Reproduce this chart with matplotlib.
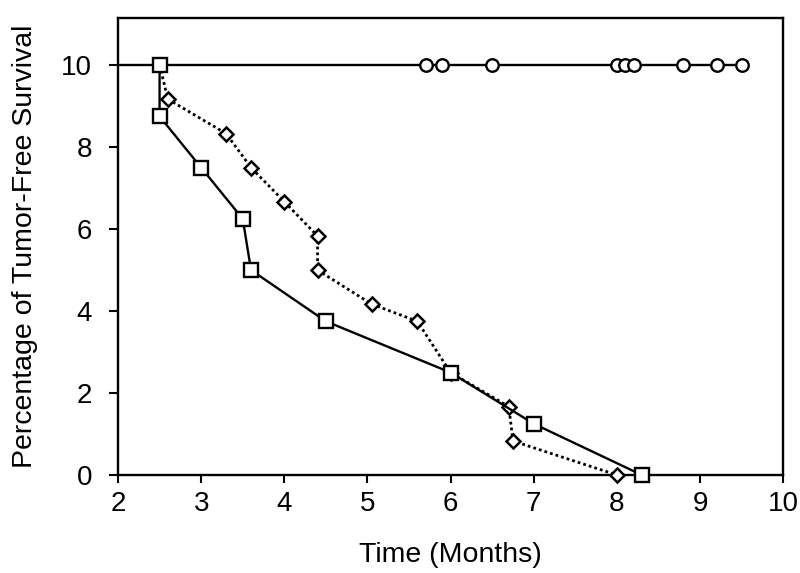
import matplotlib
matplotlib.use("Agg")
import matplotlib.pyplot as plt

plt.rcParams['font.family'] = ['Liberation Sans', 'DejaVu Sans']

# Control group (circles): tumor-free throughout
circle_x = [5.7, 5.9, 6.5, 8.0, 8.1, 8.2, 8.8, 9.2, 9.5]
circle_y = [10, 10, 10, 10, 10, 10, 10, 10, 10]
circle_line_x = [2.0, 9.5]
circle_line_y = [10, 10]

# Squares (solid line)
square_x = [2.5, 2.5, 3.0, 3.5, 3.6, 4.5, 6.0, 7.0, 8.3]
square_y = [10, 8.75, 7.5, 6.25, 5.0, 3.75, 2.5, 1.25, 0]

# Diamonds (dotted line), starting from the shared point at (2.5, 10)
diamond_x = [2.5, 2.6, 3.3, 3.6, 4.0, 4.4, 4.4, 5.05, 5.6, 6.0, 6.7, 6.75, 8.0]
diamond_y = [10, 9.17, 8.33, 7.5, 6.67, 5.83, 5.0, 4.17, 3.75, 2.5, 1.67, 0.83, 0]

x_ticks = [2, 3, 4, 5, 6, 7, 8, 9, 10]
y_ticks = [0, 2, 4, 6, 8, 10]

fig = plt.figure(figsize=(8.0, 5.73), dpi=100)
ax = fig.add_axes([0.1475, 0.171, 0.979 - 0.1475, 0.9686 - 0.171])

ax.plot(circle_line_x, circle_line_y, color='black', lw=1.7, zorder=2)
ax.plot(circle_x, circle_y, linestyle='none', marker='o', ms=9,
        mfc='white', mec='black', mew=1.7, zorder=4, clip_on=False)

ax.plot(diamond_x, diamond_y, color='black', lw=2.0, linestyle=(0, (1, 1.1)),
        marker='D', ms=7, mfc='white', mec='black', mew=1.8,
        markevery=list(range(1, len(diamond_x))), zorder=3, clip_on=False)

ax.plot(square_x, square_y, color='black', lw=1.7, marker='s', ms=10,
        mfc='white', mec='black', mew=1.7, zorder=5, clip_on=False)

ax.set_xlim(2, 10)
ax.set_ylim(0, 11.15)
ax.set_xticks(x_ticks)
ax.set_yticks(y_ticks)
ax.tick_params(axis='both', direction='out', width=1.5, labelsize=20)
ax.tick_params(axis='y', length=6.5, pad=12)
ax.tick_params(axis='x', length=5.5, pad=6)
for s in ax.spines.values():
    s.set_linewidth(1.7)

ax.set_xlabel('Time (Months)', fontsize=20.5, labelpad=18)
ax.set_ylabel('Percentage of Tumor-Free Survival', fontsize=20.5, labelpad=17)

fig.savefig('out.png', dpi=100)
